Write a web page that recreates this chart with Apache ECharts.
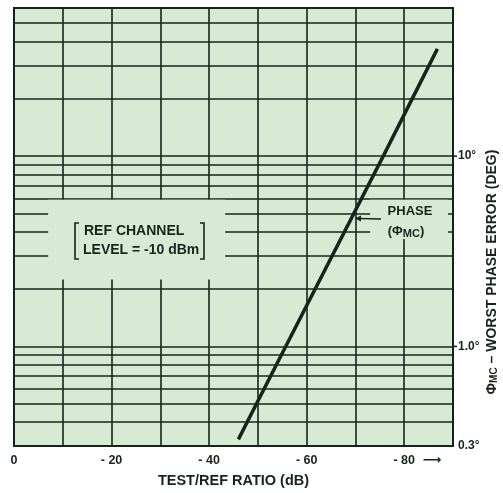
<!DOCTYPE html>
<html><head><meta charset="utf-8">
<script src="https://cdn.jsdelivr.net/npm/echarts@6/dist/echarts.min.js"></script>
<style>html,body{margin:0;padding:0;background:#fff}#c{width:503px;height:493px}</style>
</head><body><div id="c"></div>
<script>
// ---- data ----
const xTicks = [0, -20, -40, -60, -80];
const xTickLabels = ['0', '- 20', '- 40', '- 60', '- 80'];
const yGridValues = [0.3, 0.4, 0.5, 0.6, 0.7, 0.8, 0.9, 1, 2, 3, 4, 5, 6, 7, 8, 9, 10, 20, 30, 40, 50, 60];
const yTickValues = [0.3, 1, 10];
const yTickLabels = ['0.3°', '1.0°', '10°'];
const phaseDb = [-46, -55.7, -75.7, -86.8];
const phaseDeg = [0.325, 1.0, 10, 36.6];
// boxes (data coords) where the printed grid is blanked for annotations
const refBoxX = [-7, -43.3];
const refBoxY = [5.9, 2.25];
const phaseBoxX = [-73, -89];
const phaseBoxY = [5.9, 3.67];

const INK = '#17241b';
const BG = '#d6eAd4';
const FONT = '"Liberation Sans", Arial, Helvetica, sans-serif';

const chart = echarts.init(document.getElementById('c'), null, {renderer: 'canvas'});

const gridMarks = yGridValues.map(v => {
  const i = yTickValues.indexOf(v);
  return {
    yAxis: v,
    label: i >= 0 ? {show: true, position: 'start', formatter: yTickLabels[i], distance: 5,
      color: INK, fontFamily: FONT, fontWeight: 'bold', fontSize: 12} : {show: false}
  };
});

chart.setOption({
  backgroundColor: '#fff',
  animation: false,
  grid: {left: 14, right: 50, top: 8, bottom: 44, show: true, backgroundColor: BG,
    borderColor: INK, borderWidth: 2, containLabel: false},
  xAxis: {
    type: 'value', min: -90, max: 0, interval: 10, inverse: true,
    axisLine: {show: false}, axisTick: {show: false},
    splitLine: {show: true, lineStyle: {color: INK, width: 1.6}},
    axisLabel: {
      margin: 8, color: INK, fontFamily: FONT, fontWeight: 'bold', fontSize: 12.5,
      formatter: v => { const i = xTicks.indexOf(v); return i >= 0 ? xTickLabels[i] : ''; }
    },
    name: 'TEST/REF RATIO (dB)', nameLocation: 'middle', nameGap: 27,
    nameTextStyle: {color: INK, fontFamily: FONT, fontWeight: 'bold', fontSize: 14.5}
  },
  yAxis: {
    type: 'log', logBase: 10, min: 0.3, max: 60, position: 'right',
    axisLine: {show: false}, axisTick: {show: false}, axisLabel: {show: false},
    splitLine: {show: false}
  },
  series: [{
    type: 'line',
    data: phaseDb.map((x, i) => [x, phaseDeg[i]]),
    showSymbol: false, symbol: 'none',
    lineStyle: {color: INK, width: 3.5}, z: 5,
    markLine: {
      silent: true, symbol: ['none', 'none'], animation: false,
      lineStyle: {color: INK, width: 1.6, type: 'solid'},
      data: gridMarks, z: 1
    }
  }]
});

function px(x, y) { return chart.convertToPixel({gridIndex: 0}, [x, y]); }
function boxRect(bx, by) {
  const a = px(bx[0], by[0]), b = px(bx[1], by[1]);
  return {type: 'rect', z: 3, silent: true,
    shape: {x: Math.min(a[0], b[0]), y: Math.min(a[1], b[1]), width: Math.abs(a[0] - b[0]), height: Math.abs(a[1] - b[1])},
    style: {fill: BG}};
}
const arrowBase = px(-85.7, 0.3);
const tick10 = px(-90, 10), tick1 = px(-90, 1);
const g = [
  boxRect(refBoxX, refBoxY),
  boxRect(phaseBoxX, phaseBoxY),
  // small outside ticks on the right at 10 and 1
  {type: 'line', z: 6, shape: {x1: tick10[0], y1: tick10[1], x2: tick10[0] + 4, y2: tick10[1]}, style: {stroke: INK, lineWidth: 1.6}},
  {type: 'line', z: 6, shape: {x1: tick1[0], y1: tick1[1], x2: tick1[0] + 4, y2: tick1[1]}, style: {stroke: INK, lineWidth: 1.6}},
  // REF CHANNEL note
  {type: 'text', z: 6, x: 84, y: 231, style: {text: 'REF CHANNEL', fill: INK, font: 'bold 14px ' + FONT, verticalAlign: 'middle', align: 'left'}},
  {type: 'text', z: 6, x: 83, y: 250, style: {text: 'LEVEL = -10 dBm', fill: INK, font: 'bold 14px ' + FONT, verticalAlign: 'middle', align: 'left'}},
  {type: 'polyline', z: 6, shape: {points: [[79, 223], [75, 223], [75, 259], [79, 259]]}, style: {stroke: INK, lineWidth: 1.6, fill: null}},
  {type: 'polyline', z: 6, shape: {points: [[200, 223], [204, 223], [204, 259], [200, 259]]}, style: {stroke: INK, lineWidth: 1.6, fill: null}},
  // PHASE note
  {type: 'text', z: 6, x: 410, y: 211, style: {text: 'PHASE', fill: INK, font: 'bold 13px ' + FONT, verticalAlign: 'middle', align: 'center'}},
  {type: 'text', z: 6, x: 406, y: 231, style: {
    text: '({p|Φ}{s|MC})', fill: INK, font: 'bold 13px ' + FONT, verticalAlign: 'middle', align: 'center',
    rich: {p: {font: 'bold 13px ' + FONT, fill: INK}, s: {font: 'bold 11px ' + FONT, fill: INK, padding: [5, 0, 0, 0]}}
  }},
  {type: 'line', z: 6, shape: {x1: 381, y1: 219, x2: 359, y2: 218.5}, style: {stroke: INK, lineWidth: 1.5}},
  {type: 'polygon', z: 6, shape: {points: [[355, 218.5], [361, 215.5], [361, 221.5]]}, style: {fill: INK}},
  // axis arrow after -80
  {type: 'text', z: 6, x: arrowBase[0], y: arrowBase[1] + 15, style: {text: '⟶', fill: INK, font: 'bold 13px "DejaVu Sans"', verticalAlign: 'middle', align: 'center'}},
  // y-axis title (rotated)
  {type: 'text', z: 6, x: 492, y: 272, rotation: Math.PI / 2, style: {
    text: '{p|Φ}{s|MC}{t| – WORST PHASE ERROR (DEG)}', align: 'center', verticalAlign: 'middle', fill: INK,
    rich: {
      p: {font: 'bold 14px ' + FONT, fill: INK},
      s: {font: 'bold 10px ' + FONT, fill: INK, padding: [5, 0, 0, 0]},
      t: {font: 'bold 14px ' + FONT, fill: INK}
    }
  }}
];
chart.setOption({graphic: g});
</script>
</body></html>
